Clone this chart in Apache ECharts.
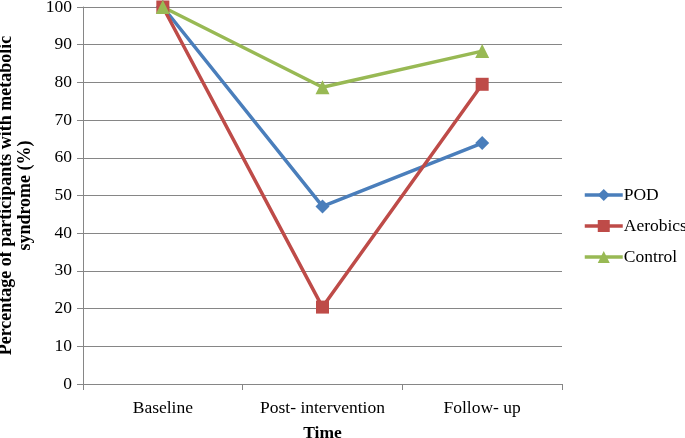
<!DOCTYPE html>
<html>
<head>
<meta charset="utf-8">
<script src="https://cdn.jsdelivr.net/npm/echarts@6/dist/echarts.min.js"></script>
<style>html,body{margin:0;padding:0;background:#fff}#c{width:685px;height:438px}</style>
</head>
<body>
<div id="c"></div>
<script>
const categories = ['Baseline', 'Post- intervention', 'Follow- up'];
const pod = [100, 47.1, 63.9];
const aerobics = [100, 20.4, 79.5];
const control = [100, 78.7, 88.3];
const yTicks = [0, 10, 20, 30, 40, 50, 60, 70, 80, 90, 100];

const font = 'Liberation Serif';
const chart = echarts.init(document.getElementById('c'));
function mk(name, data, color, symbol, size) {
  return {
    name, type: 'line', data,
    symbol, symbolSize: size,
    lineStyle: { color, width: 3.5 },
    itemStyle: { color },
    emphasis: { disabled: true },
    animation: false
  };
}
chart.setOption({
  backgroundColor: '#fff',
  textStyle: { fontFamily: font },
  grid: { left: 83, right: 123, top: 7, bottom: 54, containLabel: false, outerBoundsMode: 'none' },
  legend: {
    orient: 'vertical', left: 583, top: 186, itemGap: 13, padding: 0,
    itemWidth: 38, itemHeight: 15,
    lineStyle: { width: 3.5 },
    textStyle: { fontFamily: font, fontSize: 17.5, color: '#000', padding: [0, 0, 0, -4] },
    data: ['POD', 'Aerobics', 'Control']
  },
  xAxis: {
    type: 'category', data: categories, boundaryGap: true,
    name: 'Time', nameLocation: 'middle', nameGap: 40,
    nameTextStyle: { fontFamily: font, fontSize: 17.5, fontWeight: 'bold', color: '#000' },
    axisLine: { lineStyle: { color: '#868686', width: 1 } },
    axisTick: { show: true, length: 6, inside: false, lineStyle: { color: '#868686' } },
    axisLabel: { fontFamily: font, fontSize: 17.5, color: '#000', margin: 15, interval: 0 }
  },
  yAxis: {
    type: 'value', min: yTicks[0], max: yTicks[yTicks.length - 1], interval: 10,
    name: 'Percentage of participants with metabolic\nsyndrome (%)',
    nameLocation: 'middle', nameGap: 42, nameRotate: 90,
    nameTextStyle: { fontFamily: font, fontSize: 18, fontWeight: 'bold', color: '#000', lineHeight: 19 },
    axisLine: { show: true, lineStyle: { color: '#868686', width: 1 } },
    axisTick: { show: true, length: 6, lineStyle: { color: '#868686' } },
    axisLabel: { fontFamily: font, fontSize: 17.5, color: '#000', margin: 11 },
    splitLine: { show: true, lineStyle: { color: '#868686', width: 1 } }
  },
  series: [
    mk('POD', pod, '#4A7EBB', 'diamond', 14),
    mk('Aerobics', aerobics, '#BE4B48', 'rect', 13),
    mk('Control', control, '#98B954', 'triangle', 14)
  ]
});
</script>
</body>
</html>
